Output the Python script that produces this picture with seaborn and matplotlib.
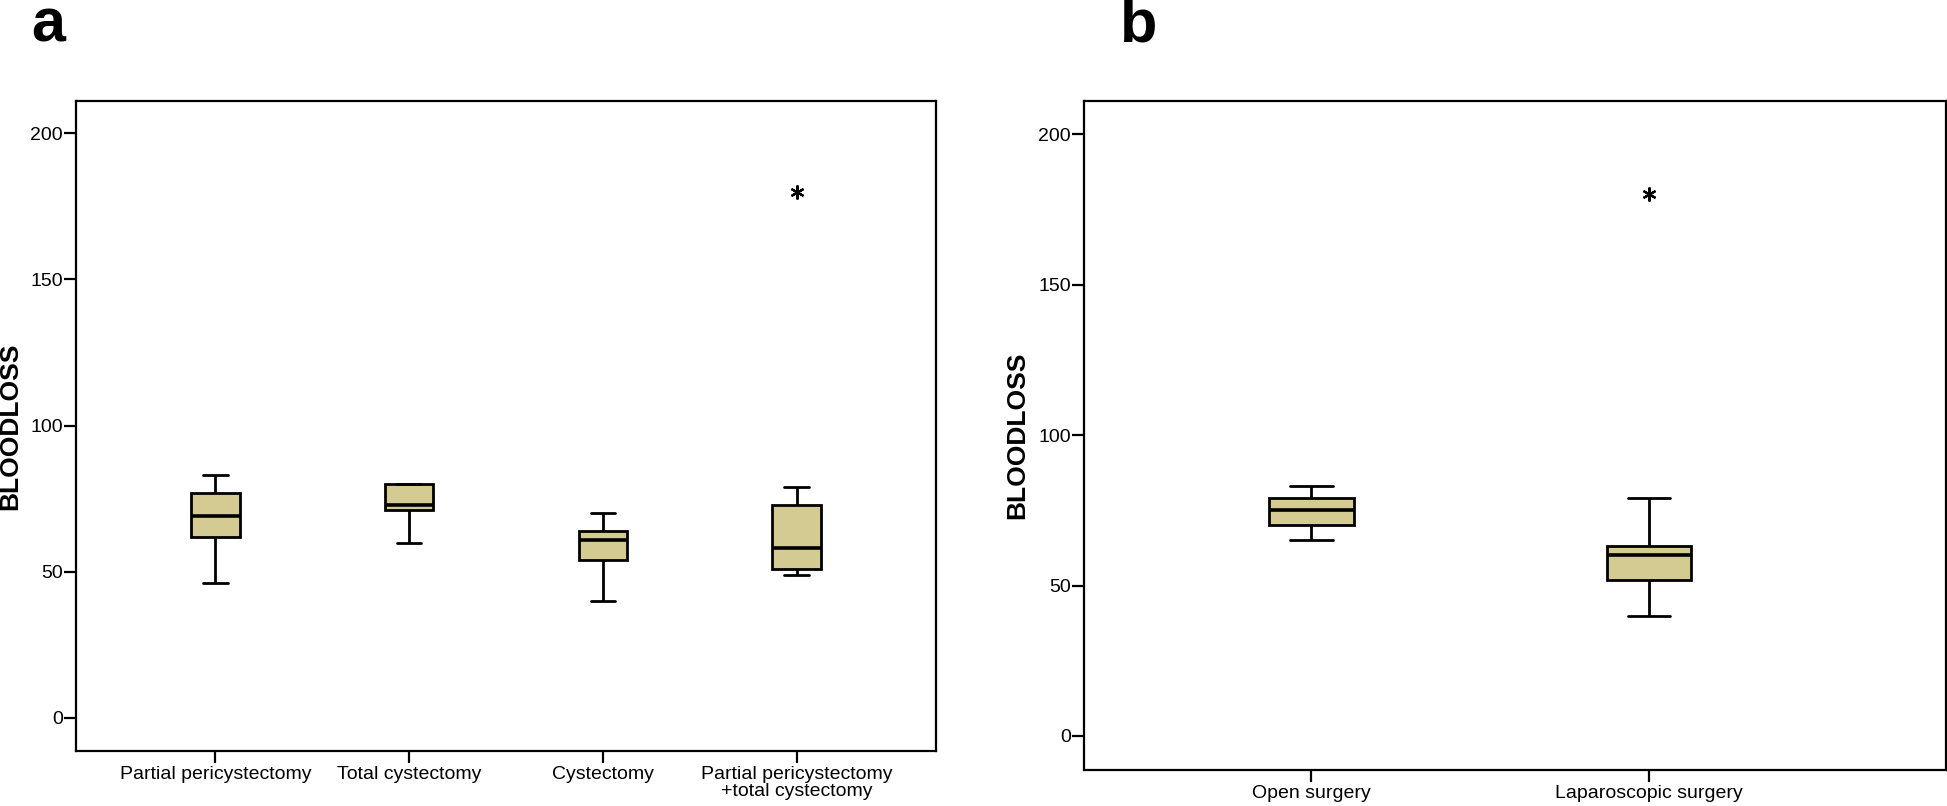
import pandas as pd
import numpy as np
import matplotlib
matplotlib.use('Agg')
import matplotlib.pyplot as plt
import seaborn as sns

sns.set_style('white')
plt.rcParams['font.family'] = ['Liberation Sans', 'DejaVu Sans']
plt.rcParams.update({'text.color': 'black', 'axes.labelcolor': 'black',
                     'xtick.color': 'black', 'ytick.color': 'black'})

# panel a: values (min whisker, Q1, median, Q3, max whisker, outliers)
cat_a = ['Partial pericystectomy', 'Total cystectomy', 'Cystectomy',
         'Partial pericystectomy\n+total cystectomy']
partial = [46, 62, 69, 77, 83]
total = [60, 71, 73, 80, 80]
cyst = [40, 54, 61, 64, 70]
partial_total = [49, 51, 51, 58, 58, 73, 73, 79, 180]

# panel b
cat_b = ['Open surgery', 'Laparoscopic surgery']
open_s = [65, 70, 75, 79, 83]
lap_s = [40, 52, 52, 60, 60, 63, 63, 79, 180]

yticks = [0, 50, 100, 150, 200]

df_a = pd.DataFrame({'group': [cat_a[0]]*len(partial) + [cat_a[1]]*len(total)
                              + [cat_a[2]]*len(cyst) + [cat_a[3]]*len(partial_total),
                     'BLOODLOSS': partial + total + cyst + partial_total})
df_b = pd.DataFrame({'group': [cat_b[0]]*len(open_s) + [cat_b[1]]*len(lap_s),
                     'BLOODLOSS': open_s + lap_s})

fill = '#D3CB92'
W, H = 1947, 806
fig = plt.figure(figsize=(W/100, H/100), dpi=100)
ax_a = fig.add_axes([76/W, 1-751/H, (936-76)/W, (751-101)/H])
ax_b = fig.add_axes([1084/W, 1-770/H, (1946-1084)/W, (770-101)/H])

box_kw = dict(color=fill, saturation=1, linecolor='black', linewidth=2, width=0.25,
              medianprops={'linewidth': 2.6, 'color': 'black'},
              flierprops={'marker': (6, 2, 0), 'markersize': 10, 'markeredgewidth': 1.6,
                          'markeredgecolor': 'black'})

sns.boxplot(data=df_a, x='group', y='BLOODLOSS', order=cat_a, ax=ax_a, **box_kw)
sns.boxplot(data=df_b, x='group', y='BLOODLOSS', order=cat_b, ax=ax_b, **box_kw)

for ax, xl in [(ax_a, (-0.72, 3.72)), (ax_b, (-0.674, 1.88))]:
    ax.set_xlim(*xl)
    ax.set_ylim(-11.3, 211)
    ax.set_yticks(yticks)
    ax.set_xlabel('')
    ax.set_ylabel('BLOODLOSS', fontsize=19, fontweight='bold')
    ax.yaxis.set_label_coords(-0.063, 0.5)
    for s in ax.spines.values():
        s.set_visible(True)
        s.set_color('black')
        s.set_linewidth(1.6)
    ax.tick_params(axis='both', direction='out', length=8.5, width=1.6, color='black',
                   labelcolor='black', labelsize=14, pad=1,
                   bottom=True, left=True, top=False, right=False)
    ax.tick_params(axis='x', pad=2)
    for t in ax.get_xticklabels():
        t.set_linespacing(1.05)

fig.text(31/W, 1-42/H, 'a', fontsize=44, fontweight='bold', va='baseline', ha='left')
fig.text(1120/W, 1-42/H, 'b', fontsize=44, fontweight='bold', va='baseline', ha='left')

fig.savefig('out.png', dpi=100, facecolor='white')
